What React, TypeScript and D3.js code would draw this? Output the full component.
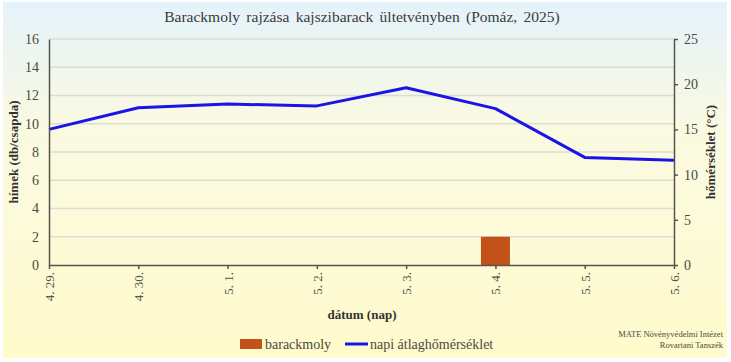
import React, { useRef, useEffect } from 'react';
import * as d3 from 'd3';

const dates = ['4. 29.', '4. 30.', '5. 1.', '5. 2.', '5. 3.', '5. 4.', '5. 5.', '5. 6.'];
const moths = [0, 0, 0, 0, 0, 2, 0, 0];
const temps = [15.0, 17.4, 17.8, 17.6, 19.6, 17.3, 11.9, 11.6];
const leftTicks = [0, 2, 4, 6, 8, 10, 12, 14, 16];
const rightTicks = [0, 5, 10, 15, 20, 25];

const W = 731;
const H = 362;
const serif = '"Liberation Serif", "Times New Roman", serif';

const App = () => {
  const svgRef = useRef<SVGSVGElement>(null);

  useEffect(() => {
    const svg = d3.select(svgRef.current);
    svg.selectAll('*').remove();

    const margin = { top: 39, right: 57, bottom: 97, left: 49 };
    const innerW = W - margin.left - margin.right;
    const innerH = H - margin.top - margin.bottom;

    const defs = svg.append('defs');
    const grad = defs.append('linearGradient')
      .attr('id', 'bg')
      .attr('x1', 0).attr('y1', 0).attr('x2', 0).attr('y2', 1);
    grad.append('stop').attr('offset', '0%').attr('stop-color', '#e4f2fb');
    grad.append('stop').attr('offset', '35%').attr('stop-color', '#fafae2');
    grad.append('stop').attr('offset', '100%').attr('stop-color', '#fffbcc');

    svg.append('rect')
      .attr('x', 0).attr('y', 0).attr('width', W).attr('height', H)
      .attr('fill', '#ffffff');
    svg.append('rect')
      .attr('x', 3).attr('y', 2).attr('width', 724).attr('height', 356)
      .attr('fill', 'url(#bg)');

    const x = d3.scalePoint<string>()
      .domain(dates)
      .range([0, innerW]);

    const yL = d3.scaleLinear().domain([0, 16]).range([innerH, 0]);
    const yR = d3.scaleLinear().domain([0, 25]).range([innerH, 0]);

    const g = svg.append('g')
      .attr('transform', `translate(${margin.left},${margin.top})`);

    // gridlines
    g.append('g')
      .selectAll('line')
      .data(leftTicks.filter(d => d > 0))
      .enter()
      .append('line')
      .attr('x1', 0)
      .attr('x2', innerW)
      .attr('y1', d => yL(d))
      .attr('y2', d => yL(d))
      .attr('stroke', '#dcdcd4')
      .attr('stroke-width', 1.5);

    // bars
    const barW = 29;
    g.append('g')
      .selectAll('rect')
      .data(dates.map((d, i) => ({ d, v: moths[i] })).filter(o => o.v > 0))
      .enter()
      .append('rect')
      .attr('x', o => (x(o.d) as number) - barW / 2)
      .attr('width', barW)
      .attr('y', o => yL(o.v))
      .attr('height', o => innerH - yL(o.v))
      .attr('fill', '#c4501a');

    // temperature line
    const line = d3.line<number>()
      .x((_, i) => x(dates[i]) as number)
      .y(d => yR(d));
    g.append('path')
      .datum(temps)
      .attr('d', line)
      .attr('fill', 'none')
      .attr('stroke', '#1a14e6')
      .attr('stroke-width', 3)
      .attr('stroke-linejoin', 'round');

    const axisColor = '#55554a';

    // left axis
    const left = g.append('g')
      .call(d3.axisLeft(yL).tickValues(leftTicks).tickSize(0).tickPadding(10));
    left.select('.domain').attr('stroke', axisColor).attr('stroke-width', 1.5);
    left.selectAll('text')
      .attr('font-family', serif)
      .attr('font-size', 14)
      .attr('fill', '#4a4a40');

    // right axis
    const right = g.append('g')
      .attr('transform', `translate(${innerW},0)`)
      .call(d3.axisRight(yR).tickValues(rightTicks).tickSize(4).tickSizeOuter(0).tickPadding(6));
    right.select('.domain').attr('stroke', axisColor).attr('stroke-width', 1.5);
    right.selectAll('line').attr('stroke', axisColor).attr('stroke-width', 1.5);
    right.selectAll('text')
      .attr('font-family', serif)
      .attr('font-size', 14)
      .attr('fill', '#4a4a40');

    // bottom axis
    const bottom = g.append('g')
      .attr('transform', `translate(0,${innerH})`)
      .call(d3.axisBottom(x).tickSize(4).tickSizeOuter(0).tickPadding(6));
    bottom.select('.domain').attr('stroke', axisColor).attr('stroke-width', 1.5);
    bottom.selectAll('line').attr('stroke', axisColor).attr('stroke-width', 1.5);
    bottom.selectAll('text')
      .attr('font-family', serif)
      .attr('font-size', 13)
      .attr('fill', '#55554a')
      .attr('transform', 'rotate(-90)')
      .attr('text-anchor', 'end')
      .attr('dy', '0.35em')
      .attr('x', -7)
      .attr('y', 0);

    // titles
    svg.append('text')
      .attr('x', 362)
      .attr('y', 22)
      .attr('text-anchor', 'middle')
      .attr('font-family', serif)
      .attr('font-size', 15.5)
      .attr('word-spacing', 2.5)
      .attr('fill', '#3a3a3a')
      .text('Barackmoly rajzása kajszibarack ültetvényben (Pomáz, 2025)');

    svg.append('text')
      .attr('transform', `translate(18,${margin.top + innerH / 2}) rotate(-90)`)
      .attr('text-anchor', 'middle')
      .attr('font-family', serif)
      .attr('font-weight', 'bold')
      .attr('font-size', 13)
      .attr('fill', '#333')
      .text('hímek (db/csapda)');

    svg.append('text')
      .attr('transform', `translate(715,${margin.top + innerH / 2}) rotate(-90)`)
      .attr('text-anchor', 'middle')
      .attr('font-family', serif)
      .attr('font-weight', 'bold')
      .attr('font-size', 13)
      .attr('fill', '#333')
      .text('hőmérséklet (°C)');

    svg.append('text')
      .attr('x', 362)
      .attr('y', 319)
      .attr('text-anchor', 'middle')
      .attr('font-family', serif)
      .attr('font-weight', 'bold')
      .attr('font-size', 13)
      .attr('fill', '#333')
      .text('dátum (nap)');

    // legend
    const legend = svg.append('g').attr('transform', 'translate(240,346)');
    legend.append('rect')
      .attr('x', 0).attr('y', -7).attr('width', 22).attr('height', 10)
      .attr('fill', '#c4501a');
    legend.append('text')
      .attr('x', 25).attr('y', 3)
      .attr('font-family', serif)
      .attr('font-size', 14)
      .attr('fill', '#4a4a40')
      .text('barackmoly');
    legend.append('line')
      .attr('x1', 105).attr('x2', 128).attr('y1', -2).attr('y2', -2)
      .attr('stroke', '#1a14e6').attr('stroke-width', 3);
    legend.append('text')
      .attr('x', 130).attr('y', 3)
      .attr('font-family', serif)
      .attr('font-size', 14)
      .attr('fill', '#4a4a40')
      .text('napi átlaghőmérséklet');

    // credit
    svg.append('text')
      .attr('x', 723).attr('y', 337)
      .attr('text-anchor', 'end')
      .attr('font-family', serif)
      .attr('font-size', 8.5)
      .attr('fill', '#4a4a40')
      .text('MATE Növényvédelmi Intézet');
    svg.append('text')
      .attr('x', 723).attr('y', 348)
      .attr('text-anchor', 'end')
      .attr('font-family', serif)
      .attr('font-size', 8.5)
      .attr('fill', '#4a4a40')
      .text('Rovartani Tanszék');
  }, []);

  return (
    <svg
      ref={svgRef}
      width={W}
      height={H}
      style={{ position: 'absolute', left: 0, top: 0 }}
    ></svg>
  );
};

export default App;
